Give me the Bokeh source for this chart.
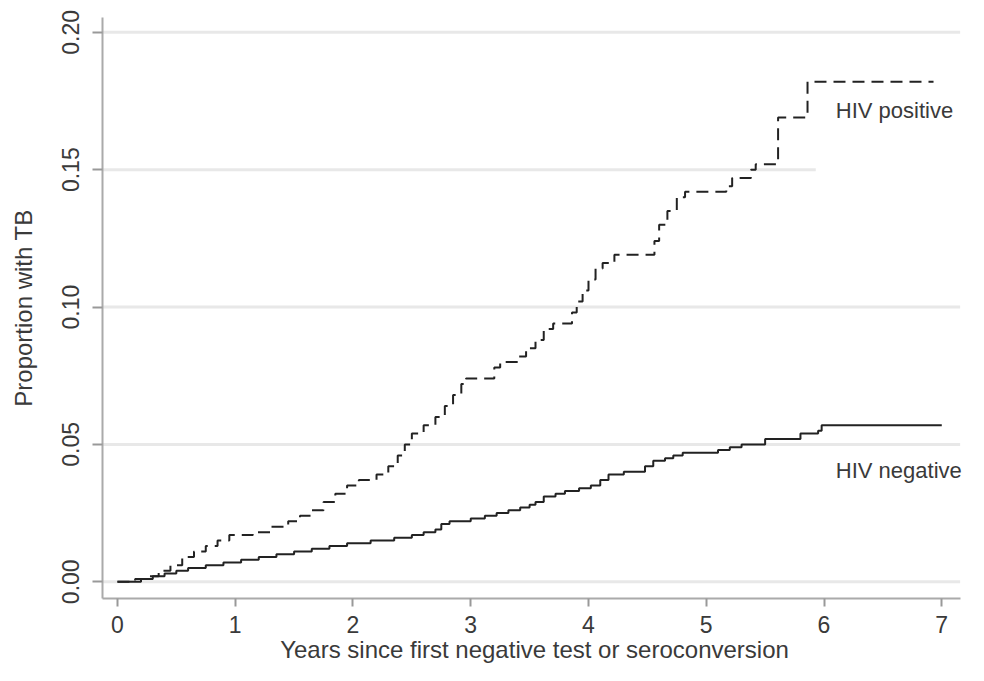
from bokeh.plotting import figure
from bokeh.models import Label, Range1d, FixedTicker
from bokeh.embed import file_html
from bokeh.resources import INLINE

# HIV positive: step times (years) and cumulative proportion with TB
pos_t = [0.00, 0.15, 0.25, 0.35, 0.45, 0.55, 0.65, 0.75, 0.85, 0.95, 1.15, 1.30, 1.45, 1.55, 1.65,
         1.75, 1.85, 1.95, 2.05, 2.20, 2.30, 2.38, 2.44, 2.50, 2.60, 2.70, 2.78, 2.85, 2.92, 2.96,
         3.20, 3.25, 3.40, 3.47, 3.55, 3.62, 3.70, 3.86, 3.90, 3.95, 4.00, 4.06, 4.12, 4.22, 4.56,
         4.60, 4.67, 4.75, 4.82, 5.17, 5.22, 5.38, 5.42, 5.61, 5.86, 6.93]
pos_p = [0.000, 0.001, 0.002, 0.004, 0.006, 0.009, 0.011, 0.013, 0.015, 0.017, 0.018, 0.020, 0.022, 0.024, 0.026,
         0.029, 0.032, 0.035, 0.037, 0.039, 0.042, 0.046, 0.050, 0.054, 0.057, 0.060, 0.064, 0.068, 0.072, 0.074,
         0.078, 0.080, 0.082, 0.085, 0.088, 0.092, 0.094, 0.098, 0.102, 0.106, 0.110, 0.114, 0.116, 0.119, 0.124,
         0.130, 0.135, 0.140, 0.142, 0.144, 0.147, 0.150, 0.152, 0.169, 0.182, 0.182]

# HIV negative
neg_t = [0.00, 0.20, 0.30, 0.40, 0.50, 0.60, 0.75, 0.90, 1.05, 1.20, 1.35, 1.50, 1.65, 1.80, 1.95,
         2.15, 2.35, 2.50, 2.60, 2.70, 2.75, 2.82, 3.00, 3.12, 3.22, 3.32, 3.42, 3.50, 3.55, 3.62,
         3.72, 3.80, 3.92, 4.02, 4.10, 4.17, 4.30, 4.48, 4.55, 4.65, 4.72, 4.80, 5.10, 5.20, 5.30,
         5.50, 5.80, 5.95, 5.98, 7.00]
neg_p = [0.000, 0.001, 0.002, 0.003, 0.004, 0.005, 0.006, 0.007, 0.008, 0.009, 0.010, 0.011, 0.012, 0.013, 0.014,
         0.015, 0.016, 0.017, 0.018, 0.019, 0.021, 0.022, 0.023, 0.024, 0.025, 0.026, 0.027, 0.028, 0.029, 0.031,
         0.032, 0.033, 0.034, 0.035, 0.037, 0.039, 0.040, 0.042, 0.044, 0.045, 0.046, 0.047, 0.048, 0.049, 0.050,
         0.052, 0.054, 0.055, 0.057, 0.057]

x_ticks = [0, 1, 2, 3, 4, 5, 6, 7]
y_ticks = [0.00, 0.05, 0.10, 0.15, 0.20]
y_tick_labels = {0.0: "0.00", 0.05: "0.05", 0.1: "0.10", 0.15: "0.15", 0.2: "0.20"}

FONT = "Liberation Sans"
TXT = "#3a3a3a"
X0, X_AXIS_END, X1 = -0.127, 7.156, 7.21
GRID_END = [X_AXIS_END, X_AXIS_END, X_AXIS_END, 5.93, X_AXIS_END]

p = figure(width=968, height=665, output_backend="svg", toolbar_location=None,
           x_range=Range1d(X0, X1), y_range=Range1d(-0.0061, 0.2054),
           min_border_left=102, min_border_right=2, min_border_top=17, min_border_bottom=66)
p.outline_line_color = None
p.background_fill_color = "white"
p.xgrid.grid_line_color = None
p.ygrid.grid_line_color = None

# horizontal gridlines at the y ticks
p.segment(x0=[X0] * len(y_ticks), y0=y_ticks, x1=GRID_END, y1=y_ticks,
          line_color="#e8e8e8", line_width=3)

p.step(pos_t, pos_p, mode="after", line_color="#222222", line_width=2, line_dash="12 7")
p.step(neg_t, neg_p, mode="after", line_color="#222222", line_width=2)

p.xaxis.ticker = FixedTicker(ticks=x_ticks)
p.yaxis.ticker = FixedTicker(ticks=y_ticks)
p.yaxis.major_label_overrides = y_tick_labels
p.yaxis.major_label_orientation = "vertical"
p.xaxis.bounds = (X0, X_AXIS_END)

for ax in (p.xaxis, p.yaxis):
    ax.axis_line_color = "#aaaaaa"
    ax.axis_line_width = 2
    ax.major_tick_line_color = "#999999"
    ax.major_tick_line_width = 2
    ax.major_tick_in = 0
    ax.minor_tick_line_color = None
    ax.major_label_text_font = FONT
    ax.major_label_text_font_size = "23px"
    ax.major_label_text_color = TXT
    ax.axis_label_text_font = FONT
    ax.axis_label_text_font_size = "24px"
    ax.axis_label_text_font_style = "normal"
    ax.axis_label_text_color = TXT

p.xaxis.major_tick_out = 8
p.yaxis.major_tick_out = 10
p.xaxis.major_label_standoff = 9
p.yaxis.major_label_standoff = 13
p.xaxis.axis_label = "Years since first negative test or seroconversion"
p.yaxis.axis_label = "Proportion with TB"
p.xaxis.axis_label_standoff = 0
p.yaxis.axis_label_standoff = 23

p.add_layout(Label(x=6.10, y=0.1715, text="HIV positive", text_font=FONT, text_font_size="22px",
                   text_color=TXT, text_baseline="middle"))
p.add_layout(Label(x=6.10, y=0.0404, text="HIV negative", text_font=FONT, text_font_size="22px",
                   text_color=TXT, text_baseline="middle"))

open("out.html", "w").write(file_html(p, INLINE))
